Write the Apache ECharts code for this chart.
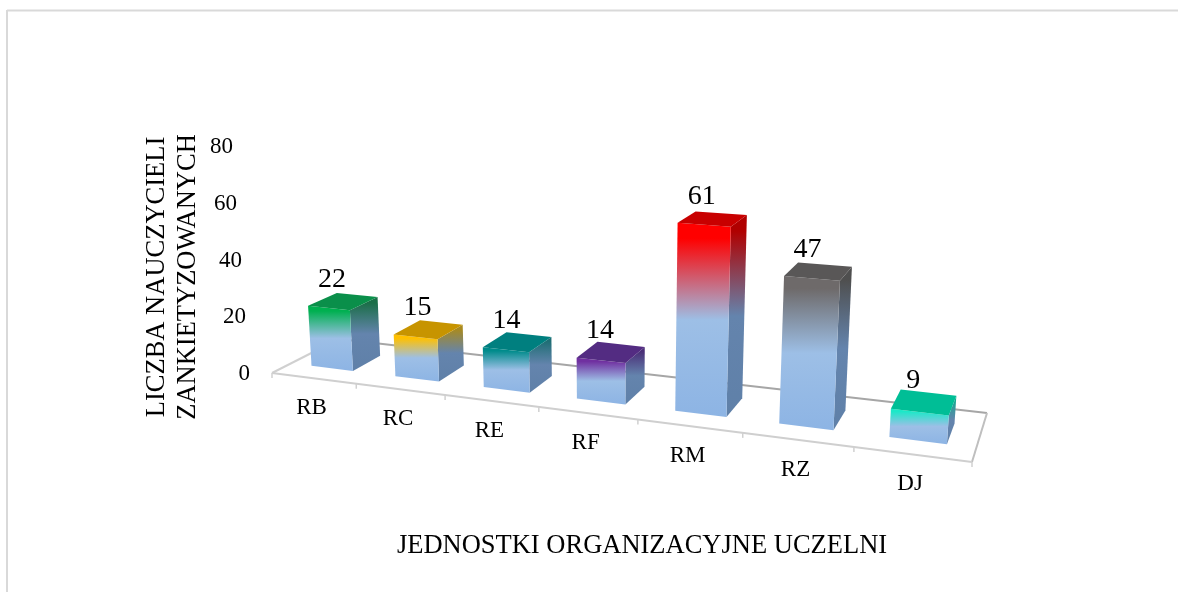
<!DOCTYPE html>
<html><head><meta charset="utf-8">
<style>html,body{margin:0;padding:0;background:#fff}#c{width:1190px;height:592px}</style>
<script src="https://cdn.jsdelivr.net/npm/echarts@6/dist/echarts.min.js"></script>
</head><body><div id="c"></div>
<script>
const categories = ['RB','RC','RE','RF','RM','RZ','DJ'];
const values = [22,15,14,14,61,47,9];
const faceColors = ['#00B050','#FFC000','#008B8B','#7030A0','#FF0000','#6E6A6A','#1CE8C8'];
const topColors = ['#0A8F4A','#C79400','#007F7F','#532C82','#C80000','#595757','#00BE96'];
const sideTops = ['#1B6E48','#A88A20','#1F6E75','#4A2F78','#B00000','#4F4F4F','#12A98F'];
const yTickPad = {0:0,20:4,40:8,60:13,80:17};
const FONT = '"Liberation Serif","Times New Roman",serif';

const gridLeft = 272, gridW = 700, gridTop = 147, gridBottomY = 374;
// floor quad in the picture (across 0..1, depth 0..1)
const Q = [[272,373],[972,462],[987,413],[339,339]];
const VP = [610,5600], S = -0.95/5150;
const H = (function(){
  const [p0,p1,p2,p3]=Q;
  const dx1=p1[0]-p2[0],dx2=p3[0]-p2[0],sx=p0[0]-p1[0]+p2[0]-p3[0];
  const dy1=p1[1]-p2[1],dy2=p3[1]-p2[1],sy=p0[1]-p1[1]+p2[1]-p3[1];
  const den=dx1*dy2-dx2*dy1;
  const g=(sx*dy2-dx2*sy)/den,h=(dx1*sy-sx*dy1)/den;
  return {a:p1[0]-p0[0]+g*p1[0],b:p3[0]-p0[0]+h*p3[0],c:p0[0],
          d:p1[1]-p0[1]+g*p1[1],e:p3[1]-p0[1]+h*p3[1],f:p0[1],g,h};
})();
// px: x in grid pixels, v: floor depth, hp: height in axis pixels
function proj(px,v,hp){
  const u=(px-gridLeft)/gridW, c=hp*S;
  const X=H.a*u+H.b*v+H.c+c*VP[0], Y=H.d*u+H.e*v+H.f+c*VP[1], W=H.g*u+H.h*v+1+c;
  return [X/W,Y/W];
}
const V0=0.27,V1=0.70,BW=0.25;

function poly(points,fill){return {type:'polygon',shape:{points},style:{fill,stroke:null},silent:true};}
function seg(a,b,stroke,lw){return {type:'line',shape:{x1:a[0],y1:a[1],x2:b[0],y2:b[1]},style:{stroke,lineWidth:lw},silent:true};}

function renderFloor(params,api){
  const i=api.value(0), p=api.coord([i,0]), band=api.size([1,0])[0];
  const L=p[0]-band/2,R=p[0]+band/2,ch=[];
  if(i===0){
    const xe=L+band*categories.length;
    ch.push(seg(proj(L,1,0),proj(xe,1,0),'#A6A6A6',2));
    ch.push(seg(proj(L,0,0),proj(L,1,0),'#D0D0D0',2));
    ch.push(seg(proj(xe,0,0),proj(xe,1,0),'#BFBFBF',2));
    ch.push(seg(proj(L,0,0),proj(xe,0,0),'#CFCFCF',2));
    const t0=proj(L,0,0);
    ch.push(seg(t0,[t0[0],t0[1]+5],'#D0D0D0',1.5));
  }
  const t=proj(R,0,0);
  ch.push(seg(t,[t[0],t[1]+5],'#D0D0D0',1.5));
  const m=proj(p[0],0,0);
  ch.push({type:'text',style:{text:categories[i],x:m[0]-2,y:m[1]+30,font:'23px '+FONT,fill:'#000',align:'center',verticalAlign:'middle'}});
  return {type:'group',children:ch};
}

function renderBar(params,api){
  const i=api.value(0), val=api.value(1);
  const b=api.coord([i,0]), t=api.coord([i,val]), band=api.size([1,0])[0];
  const hp=b[1]-t[1], xl=b[0]-band*BW, xr=b[0]+band*BW;
  const FLb=proj(xl,V0,0),FRb=proj(xr,V0,0),BRb=proj(xr,V1,0);
  const FLt=proj(xl,V0,hp),FRt=proj(xr,V0,hp),BRt=proj(xr,V1,hp),BLt=proj(xl,V1,hp);
  const G=echarts.graphic.LinearGradient;
  const face=new G(0,0,0,1,[{offset:0,color:faceColors[i]},{offset:0.08,color:faceColors[i]},{offset:0.5,color:'#9DBFE6'},{offset:1,color:'#8DB4E4'}]);
  const side=new G(0,0,0,1,[{offset:0,color:sideTops[i]},{offset:0.08,color:sideTops[i]},{offset:0.5,color:'#6484AD'},{offset:1,color:'#5F80A8'}]);
  const cx=(FLt[0]+FRt[0]+BRt[0]+BLt[0])/4, cy=(FLt[1]+FRt[1]+BRt[1]+BLt[1])/4;
  return {type:'group',children:[
    poly([FRb,BRb,BRt,FRt],side),
    poly([FLb,FRb,FRt,FLt],face),
    poly([FLt,FRt,BRt,BLt],topColors[i]),
    {type:'text',style:{text:String(val),x:cx-11,y:cy-22,font:'28px '+FONT,fill:'#000',align:'center',verticalAlign:'middle'}}
  ]};
}

const seq=categories.map((c,i)=>[i,values[i]]);
const chart=echarts.init(document.getElementById('c'),null,{renderer:'canvas'});
chart.setOption({
  animation:false,
  backgroundColor:'#fff',
  grid:{left:gridLeft,top:gridTop,width:gridW,height:gridBottomY-gridTop,containLabel:false},
  xAxis:{type:'category',data:categories,axisLine:{show:false},axisTick:{show:false},axisLabel:{show:false},splitLine:{show:false},
    name:'JEDNOSTKI ORGANIZACYJNE UCZELNI',nameLocation:'middle',nameGap:159,
    nameTextStyle:{fontFamily:FONT,fontSize:26.5,color:'#000',padding:[0,0,0,40]}},
  yAxis:{type:'value',min:0,max:80,interval:20,axisLine:{show:false},axisTick:{show:false},splitLine:{show:false},
    axisLabel:{margin:22,fontFamily:FONT,fontSize:23,color:'#000',
      formatter:v=>'{p'+v+'|'+v+'}',
      rich:Object.fromEntries(Object.keys(yTickPad).map(k=>['p'+k,{fontFamily:FONT,fontSize:23,color:'#000',padding:[0,yTickPad[k],0,0]}]))}},
  graphic:[
    {type:'line',shape:{x1:7,y1:10.5,x2:1178,y2:10.5},style:{stroke:'#D9D9D9',lineWidth:2},silent:true},
    {type:'line',shape:{x1:7,y1:10,x2:7,y2:592},style:{stroke:'#D9D9D9',lineWidth:2},silent:true},
    {type:'text',x:173,y:277,rotation:Math.PI/2,silent:true,
      style:{text:'LICZBA NAUCZYCIELI\nZANKIETYZOWANYCH',font:'26.5px '+FONT,lineHeight:31,fill:'#000',align:'center',verticalAlign:'middle'}}
  ],
  series:[
    {type:'custom',name:'floor',z:1,data:seq,encode:{x:0,y:1},renderItem:renderFloor,silent:true},
    {type:'custom',name:'LICZBA NAUCZYCIELI',z:2,data:seq,encode:{x:0,y:1},renderItem:renderBar,silent:true}
  ]
});
</script></body></html>
